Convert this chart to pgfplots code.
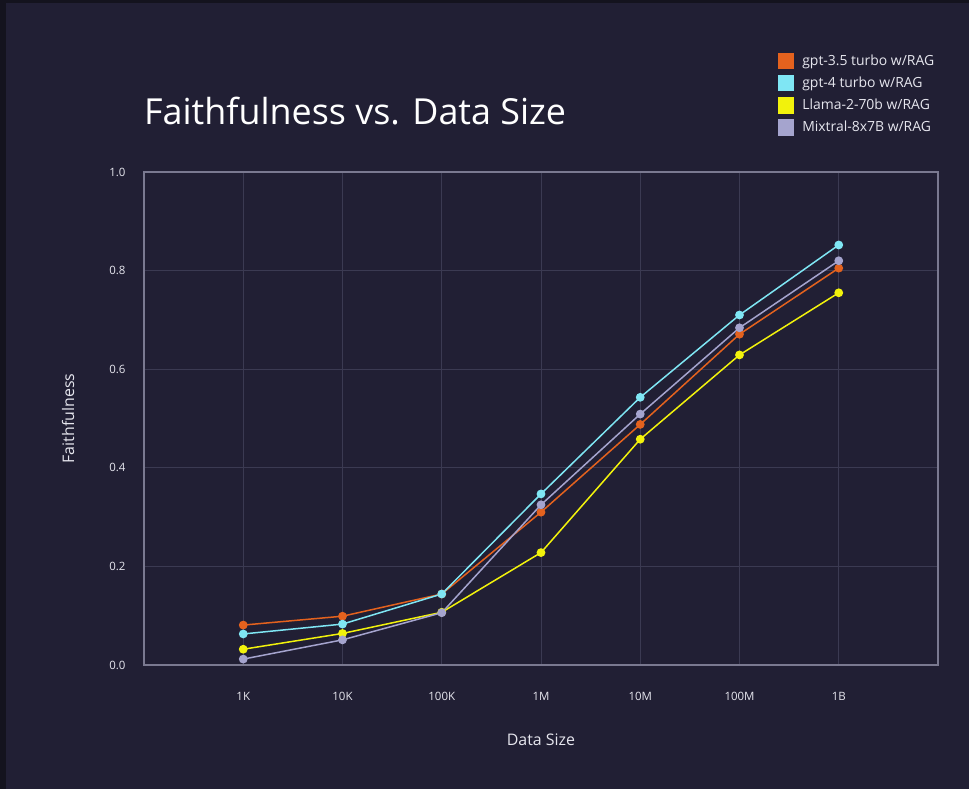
\documentclass[border=0pt]{standalone}
\usepackage{pgfplots}
\pgfplotsset{compat=1.18}
\usepackage{fontspec}
\setmainfont{Open Sans}

\definecolor{bgc}{HTML}{211F34}
\definecolor{edgec}{HTML}{14131E}
\definecolor{gridc}{HTML}{3B3A52}
\definecolor{framec}{HTML}{7A7990}
\definecolor{txtc}{HTML}{E6E6EE}
\definecolor{cOrange}{HTML}{E4621E}
\definecolor{cCyan}{HTML}{7FE6F4}
\definecolor{cYellow}{HTML}{F2F20C}
\definecolor{cLav}{HTML}{A5A4CE}

\begin{document}
\begin{tikzpicture}
\useasboundingbox (0,0) rectangle (969bp,-789bp);
\fill[bgc] (0,0) rectangle (969bp,-789bp);
\fill[edgec] (0,0) rectangle (969bp,-3bp);
\fill[edgec] (0,0) rectangle (6bp,-789bp);

\begin{axis}[
  at={(144bp,-665bp)}, anchor=south west,
  scale only axis, width=794bp, height=493bp,
  xmin=-1, xmax=7, ymin=0, ymax=1,
  xtick={0,1,2,3,4,5,6},
  xticklabels={1K,10K,100K,1M,10M,100M,1B},
  ytick={0,0.2,0.4,0.6,0.8,1.0},
  yticklabel style={xshift=-15bp, /pgf/number format/.cd, fixed, fixed zerofill, precision=1},
  /pgf/number format/assume math mode=true,
  ticklabel style={font=\fontsize{11.5}{13}\selectfont, text=txtc},
  xticklabel style={yshift=-24bp},
  major tick length=0pt,
  tick style={draw=none},
  grid=major,
  grid style={draw=gridc, line width=0.9bp},
  axis line style={draw=framec, line width=1.6bp},
  title={Faithfulness vs. Data Size},
  title style={at={(axis description cs:0,1.1217)}, anchor=west, inner sep=0pt,
    yshift=-5bp, font=\fontsize{36}{40}\selectfont, text=white},
  xlabel={Data Size},
  xlabel style={at={(axis description cs:0.5,-0.152)}, anchor=center,
    font=\fontsize{16}{18}\selectfont, text=txtc},
  ylabel={Faithfulness},
  ylabel style={at={(axis description cs:-0.0957,0.5)}, anchor=center,
    font=\fontsize{16}{18}\selectfont, text=txtc},
  every axis plot/.append style={line width=1.5bp, mark=*, mark size=3.6bp},
  legend image code/.code={\fill[#1] (0bp,-7.5bp) rectangle (15bp,7.5bp); \path (21bp,0bp);},
  legend style={at={(axis description cs:0.798,1.242)}, anchor=north west,
    draw=none, fill=none, text=txtc, font=\fontsize{14}{16}\selectfont,
    row sep=5.6bp, inner sep=0pt},
  legend cell align=left,
]
\addplot[color=cOrange] coordinates {(0,0.081) (1,0.099) (2,0.144) (3,0.310) (4,0.488) (5,0.671) (6,0.805)};
\addlegendentry{gpt-3.5 turbo w/RAG}
\addplot[color=cCyan] coordinates {(0,0.063) (1,0.083) (2,0.144) (3,0.347) (4,0.543) (5,0.710) (6,0.852)};
\addlegendentry{gpt-4 turbo w/RAG}
\addplot[color=cYellow] coordinates {(0,0.032) (1,0.064) (2,0.107) (3,0.228) (4,0.458) (5,0.629) (6,0.755)};
\addlegendentry{Llama-2-70b w/RAG}
\addplot[color=cLav] coordinates {(0,0.012) (1,0.051) (2,0.106) (3,0.325) (4,0.509) (5,0.684) (6,0.820)};
\addlegendentry{Mixtral-8x7B w/RAG}
\end{axis}
\end{tikzpicture}
\end{document}
